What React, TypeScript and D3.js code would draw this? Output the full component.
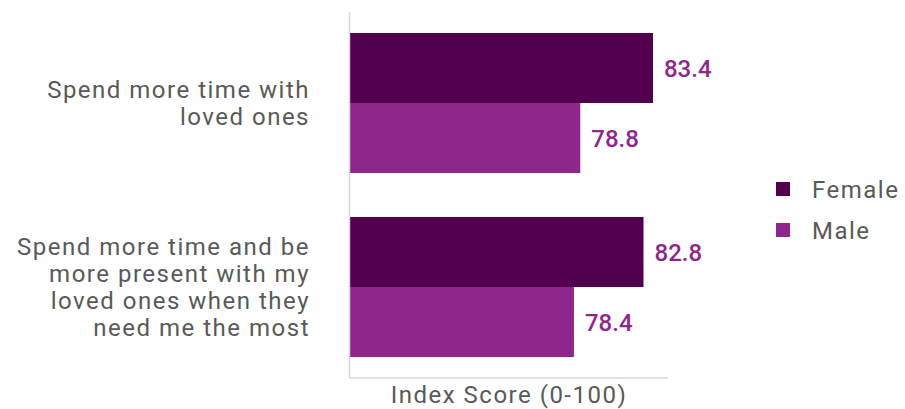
import React from "react";
import * as d3 from "d3";

const categories: string[][] = [
  ["Spend more time with", "loved ones"],
  ["Spend more time and be", "more present with my", "loved ones when they", "need me the most"],
];
const seriesNames = ["Female", "Male"];
const femaleValues = [83.4, 82.8];
const maleValues = [78.8, 78.4];
const seriesColors = ["#52004E", "#8E278C"];
const axisTitle = "Index Score (0-100)";

const W = 905;
const H = 409;
const FONT = "Roboto, 'DejaVu Sans', sans-serif";

export default function App() {
  const x = d3.scaleLinear().domain([64.2, 84.35]).range([349.5, 668]);
  const yCat = d3.scaleBand<number>().domain([0, 1]).range([12, 378]).paddingInner(0.239).paddingOuter(0.114);
  const ySub = d3.scaleBand<number>().domain([0, 1]).range([0, yCat.bandwidth()]);
  const series = [femaleValues, maleValues];
  return (
    <svg width={W} height={H} style={{ position: "absolute", left: 0, top: 0, background: "#fff" }} fontFamily={FONT}>
      {categories.map((lines, ci) => {
        const cy = (yCat(ci) as number) + yCat.bandwidth() / 2;
        const lh = 27;
        const start = cy - ((lines.length - 1) * lh) / 2;
        return (
          <g key={ci}>
            {series.map((vals, si) => {
              const y0 = (yCat(ci) as number) + (ySub(si) as number);
              return (
                <g key={si}>
                  <rect x={x.range()[0]} y={y0} width={x(vals[ci]) - x.range()[0]} height={ySub.bandwidth()} fill={seriesColors[si]} />
                  <text x={x(vals[ci]) + 11} y={y0 + ySub.bandwidth() / 2} dy="0.36em" fontSize={24} fontWeight={500} fill="#8E278C">
                    {vals[ci].toFixed(1)}
                  </text>
                </g>
              );
            })}
            {lines.map((l, li) => (
              <text key={li} x={310} y={start + li * lh} dy="0.36em" textAnchor="end" fontSize={24} fill="#595959" letterSpacing={1.5}>
                {l}
              </text>
            ))}
          </g>
        );
      })}
      <line x1={349.5} x2={349.5} y1={12} y2={378} stroke="#d9d9d9" strokeWidth={1.5} />
      <line x1={349.5} x2={668} y1={378} y2={378} stroke="#d9d9d9" strokeWidth={1.5} />
      <text x={509} y={394} dy="0.36em" textAnchor="middle" fontSize={24} fill="#595959" letterSpacing={1.5}>
        {axisTitle}
      </text>
      {seriesNames.map((n, i) => (
        <g key={n}>
          <rect x={776} y={182 + i * 41} width={14} height={14} fill={seriesColors[i]} />
          <text x={812} y={189 + i * 41} dy="0.36em" fontSize={24} fill="#595959" letterSpacing={1.5}>
            {n}
          </text>
        </g>
      ))}
    </svg>
  );
}
